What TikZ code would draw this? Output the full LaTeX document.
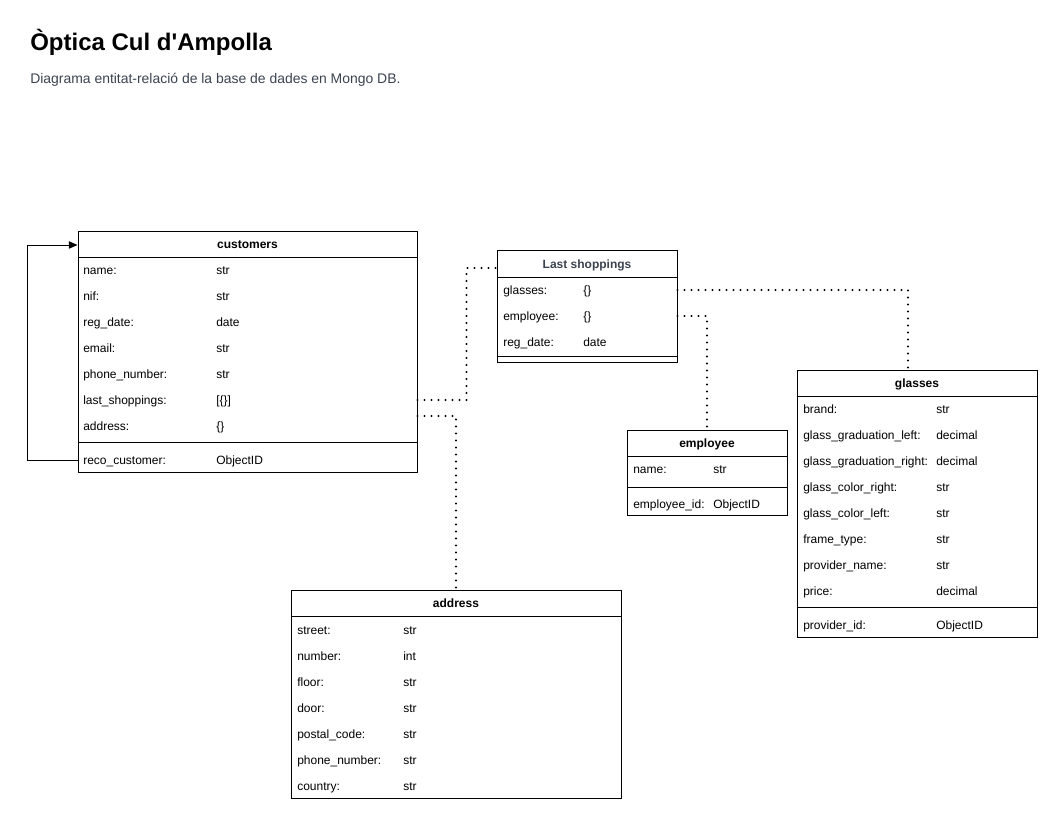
\documentclass[tikz,border=0pt]{standalone}
\usepackage{fontspec}
\setmainfont{Liberation Sans}
\usepackage{tikz}
\usetikzlibrary{arrows.meta}
\usetikzlibrary{fit}

\definecolor{slate}{HTML}{3A4350}

\tikzset{
    table/.style={draw, line width=0.75pt, inner sep=0pt},
    tabhead/.style={font=\bfseries\fontsize{9}{11}\selectfont, text height=6.5pt, text depth=0pt, inner sep=0pt},
    field/.style={anchor=west, font=\fontsize{9}{11}\selectfont, text height=6.5pt, text depth=0pt, inner sep=0pt},
    link/.style={line width=1.6pt, line cap=round, dash pattern=on 0pt off 5.25pt},
    selflink/.style={line width=0.75pt, -{Triangle[length=6.5pt,width=5.5pt]}}
}

\begin{document}
\begin{tikzpicture}[x=0.75pt, y=-0.75pt]
        \useasboundingbox (0, 0) rectangle (1058, 821);

        % The title
        \node[anchor=west, inner sep=0pt, font=\bfseries\fontsize{18}{21}\selectfont] (title) at (30, 42) {Òptica Cul d\textquotesingle Ampolla};
        \node[anchor=west, inner sep=0pt, text=slate, font=\fontsize{10.45}{12}\selectfont] (subtitle) at (30, 80) {Diagrama entitat-relació de la base de dades en Mongo DB.};

        % The customers table
        \node[table, fit={(78, 231) (417, 472)}] (customers) {};
        \draw[line width=0.75pt] (78, 257) -- (417, 257);
        \draw[line width=0.75pt] (78, 442) -- (417, 442);
        \node[tabhead] (cu-head) at (247.5, 244) {customers};
        \node[field] (cu-name) at (83, 270) {name:};
        \node[field] (cu-name-t) at (216, 270) {str};
        \node[field] (cu-nif) at (83, 296) {nif:};
        \node[field] (cu-nif-t) at (216, 296) {str};
        \node[field] (cu-date) at (83, 322) {reg\_date:};
        \node[field] (cu-date-t) at (216, 322) {date};
        \node[field] (cu-email) at (83, 348) {email:};
        \node[field] (cu-email-t) at (216, 348) {str};
        \node[field] (cu-phone) at (83, 374) {phone\_number:};
        \node[field] (cu-phone-t) at (216, 374) {str};
        \node[field] (cu-last) at (83, 400) {last\_shoppings:};
        \node[field] (cu-last-t) at (216, 400) {[\{\}]};
        \node[field] (cu-addr) at (83, 426) {address:};
        \node[field] (cu-addr-t) at (216, 426) {\{\}};
        \node[field] (cu-reco) at (83, 460) {reco\_customer:};
        \node[field] (cu-reco-t) at (216, 460) {ObjectID};

        % The Last shoppings table
        \node[table, fit={(497, 250) (677, 362)}] (lastshop) {};
        \draw[line width=0.75pt] (497, 277) -- (677, 277);
        \draw[line width=0.75pt] (497, 356) -- (677, 356);
        \node[tabhead, text=slate] (ls-head) at (587, 264) {Last shoppings};
        \node[field] (ls-glasses) at (503, 290) {glasses:};
        \node[field] (ls-glasses-t) at (583, 290) {\{\}};
        \node[field] (ls-employee) at (503, 316) {employee:};
        \node[field] (ls-employee-t) at (583, 316) {\{\}};
        \node[field] (ls-date) at (503, 342) {reg\_date:};
        \node[field] (ls-date-t) at (583, 342) {date};

        % The employee table
        \node[table, fit={(627, 430) (787, 515)}] (employee) {};
        \draw[line width=0.75pt] (627, 456) -- (787, 456);
        \draw[line width=0.75pt] (627, 487) -- (787, 487);
        \node[tabhead] (em-head) at (707, 443) {employee};
        \node[field] (em-name) at (633, 469) {name:};
        \node[field] (em-name-t) at (713, 469) {str};
        \node[field] (em-id) at (633, 504) {employee\_id:};
        \node[field] (em-id-t) at (713, 504) {ObjectID};

        % The glasses table
        \node[table, fit={(797, 370) (1037, 637)}] (glasses) {};
        \draw[line width=0.75pt] (797, 396) -- (1037, 396);
        \draw[line width=0.75pt] (797, 607) -- (1037, 607);
        \node[tabhead] (gl-head) at (917, 383) {glasses};
        \node[field] (gl-brand) at (803, 409) {brand:};
        \node[field] (gl-brand-t) at (936, 409) {str};
        \node[field] (gl-gleft) at (803, 435) {glass\_graduation\_left:};
        \node[field] (gl-gleft-t) at (936, 435) {decimal};
        \node[field] (gl-gright) at (803, 461) {glass\_graduation\_right:};
        \node[field] (gl-gright-t) at (936, 461) {decimal};
        \node[field] (gl-cright) at (803, 487) {glass\_color\_right:};
        \node[field] (gl-cright-t) at (936, 487) {str};
        \node[field] (gl-cleft) at (803, 513) {glass\_color\_left:};
        \node[field] (gl-cleft-t) at (936, 513) {str};
        \node[field] (gl-frame) at (803, 539) {frame\_type:};
        \node[field] (gl-frame-t) at (936, 539) {str};
        \node[field] (gl-prov) at (803, 565) {provider\_name:};
        \node[field] (gl-prov-t) at (936, 565) {str};
        \node[field] (gl-price) at (803, 591) {price:};
        \node[field] (gl-price-t) at (936, 591) {decimal};
        \node[field] (gl-provid) at (803, 625) {provider\_id:};
        \node[field] (gl-provid-t) at (936, 625) {ObjectID};

        % The address table
        \node[table, fit={(291, 590) (621, 798)}] (address) {};
        \draw[line width=0.75pt] (291, 616) -- (621, 616);
        \node[tabhead] (ad-head) at (456, 603) {address};
        \node[field] (ad-street) at (297, 630) {street:};
        \node[field] (ad-street-t) at (403, 630) {str};
        \node[field] (ad-number) at (297, 656) {number:};
        \node[field] (ad-number-t) at (403, 656) {int};
        \node[field] (ad-floor) at (297, 682) {floor:};
        \node[field] (ad-floor-t) at (403, 682) {str};
        \node[field] (ad-door) at (297, 708) {door:};
        \node[field] (ad-door-t) at (403, 708) {str};
        \node[field] (ad-postal) at (297, 734) {postal\_code:};
        \node[field] (ad-postal-t) at (403, 734) {str};
        \node[field] (ad-phone) at (297, 760) {phone\_number:};
        \node[field] (ad-phone-t) at (403, 760) {str};
        \node[field] (ad-country) at (297, 786) {country:};
        \node[field] (ad-country-t) at (403, 786) {str};

        % The links
        \draw[selflink] (customers.west |- cu-reco) -- ++(-50, 0) |- (customers.west |- 0, 245);
        \draw[link] (customers.east |- cu-last) -- ++(49, 0) |- (lastshop.west |- 0, 268);
        \draw[link] (customers.east |- 0, 416) -| (address.north);
        \draw[link] (lastshop.east |- ls-glasses) -| (glasses.north -| 908, 0);
        \draw[link] (lastshop.east |- ls-employee) -| (employee.north);
    \end{tikzpicture}
\end{document}
